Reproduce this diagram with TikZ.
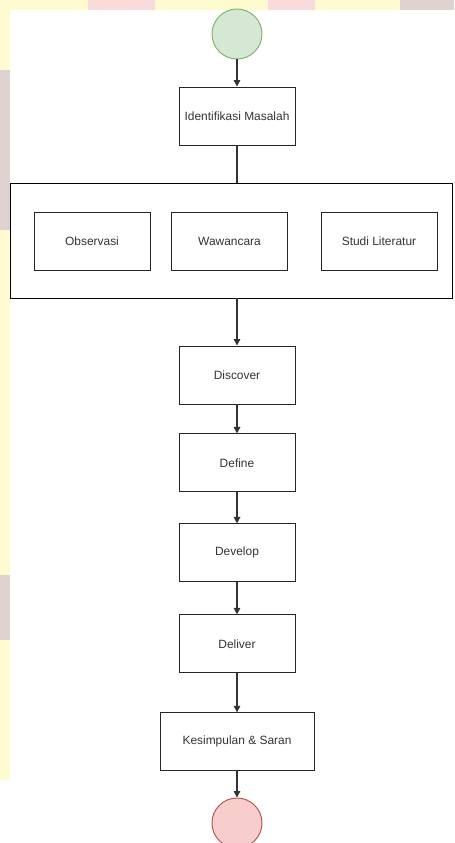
\documentclass[tikz,border=0pt]{standalone}
\usepackage{fontspec}
\setmainfont{Liberation Sans}
\usepackage{tikz}
\usetikzlibrary{arrows.meta,positioning}

\definecolor{wmyellow}{HTML}{FFFBD0}
\definecolor{wmpink}{HTML}{FADADA}
\definecolor{wmgrey}{HTML}{DCD2D0}
\definecolor{txtgrey}{HTML}{333333}
\definecolor{startfill}{HTML}{D5E8D4}
\definecolor{startline}{HTML}{82B366}
\definecolor{endfill}{HTML}{F8CECC}
\definecolor{endline}{HTML}{B85450}

\begin{document}
\begin{tikzpicture}[
  x=0.02cm, y=-0.02cm,
  every node/.style={font=\fontsize{6.8}{8}\selectfont, text=txtgrey},
  proc/.style={
    draw=black!85, line width=0.55pt,
    minimum width=2.32cm, minimum height=1.16cm,
    inner sep=0pt, align=center, fill=white,
  },
  wideproc/.style={proc, minimum width=3.08cm},
  group/.style={draw=black, line width=0.55pt, fill=white},
  startnode/.style={circle, draw=startline, fill=startfill,
    minimum size=1cm, inner sep=0pt, line width=0.55pt},
  endnode/.style={circle, draw=endline, fill=endfill,
    minimum size=1cm, inner sep=0pt, line width=0.55pt},
  arrow/.style={-{Triangle[length=1.3mm,width=1.3mm]}, line width=0.8pt, txtgrey},
  link/.style={line width=0.8pt, txtgrey},
]

% Watermark edges
\useasboundingbox (0,0) rectangle (454,843);
\fill[wmyellow] (0,0) rectangle (454,843);
\fill[wmpink] (88,0) rectangle (155,10);
\fill[wmpink] (268,0) rectangle (315,10);
\fill[wmgrey] (400,0) rectangle (454,10);
\fill[wmgrey] (0,70) rectangle (10,230);
\fill[wmgrey] (0,575) rectangle (10,640);
\fill[white] (0,780) rectangle (10,843);
\fill[white] (10,10) rectangle (454,843);

% Start
\node[startnode] (start) at (237,34) {};

% Identification
\node[proc] (ident) at (237,116) {Identifikasi Masalah};

% Data collection group
\node[group, minimum width=8.86cm, minimum height=2.3cm, inner sep=0pt] (collect) at (231.5,240.5) {};
\node[proc] (obs) at (92,241) {Observasi};
\node[proc] (wawan) at (229.5,241) {Wawancara};
\node[proc] (studi) at (379,241) {Studi Literatur};

% Double diamond
\node[proc] (discover) at (237,375) {Discover};
\node[proc, below=0.58cm of discover] (define) {Define};
\node[proc, below=0.62cm of define] (develop) {Develop};
\node[proc, below=0.64cm of develop] (deliver) {Deliver};
\node[wideproc, below=0.78cm of deliver] (kesimpulan) {Kesimpulan \& Saran};

% End
\node[endnode] (finish) at (237,823) {};

% Arrows
\draw[arrow] (start) -- (ident);
\draw[link] (ident.south) -- (ident.south |- collect.north);
\draw[arrow] (collect.south -| discover.north) -- (discover.north);
\draw[arrow] (discover) -- (define);
\draw[arrow] (define) -- (develop);
\draw[arrow] (develop) -- (deliver);
\draw[arrow] (deliver) -- (kesimpulan);
\draw[arrow] (kesimpulan) -- (finish);

\end{tikzpicture}
\end{document}
